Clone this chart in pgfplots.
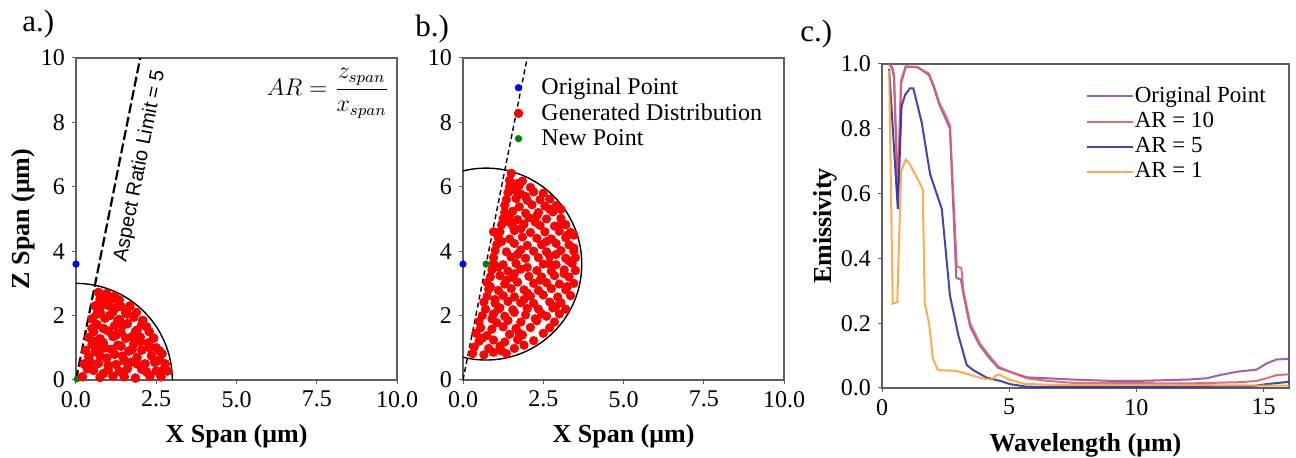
\documentclass[border=0pt]{standalone}
\usepackage{fontspec}
\setmainfont{Liberation Serif}
\newfontfamily\arialfont{Liberation Sans}
\usepackage{pgfplots}
\pgfplotsset{compat=1.18}

\definecolor{frame}{RGB}{95,95,95}
\definecolor{mgreen}{RGB}{0,128,0}
\definecolor{cpurple}{RGB}{148,82,165}
\definecolor{cred}{RGB}{214,98,108}
\definecolor{cblue}{RGB}{52,44,170}
\definecolor{corange}{RGB}{250,165,55}

\pgfplotsset{
  panel/.style={
    scale only axis, anchor=south west,
    axis line style={frame, line width=0.6pt},
    tick align=outside, xtick pos=bottom, ytick pos=left,
    major tick length=2pt,
    tick style={frame, line width=0.5pt},
    tick label style={font=\rmfamily\fontsize{12}{14}\selectfont},
    /pgf/number format/assume math mode=true,
    label style={font=\rmfamily\fontsize{13}{15}\selectfont\bfseries},
    xlabel style={at={([yshift=-28pt]axis description cs:0.5,0)}, anchor=center},
    ylabel style={at={([xshift=-26.5pt]axis description cs:0,0.5)}, anchor=center},
  },
  dots/.style={only marks, mark=*, mark size=#1},
}

\begin{document}
\begin{tikzpicture}
\path[use as bounding box] (0,0) rectangle (648pt,-229pt);

% ---------- a.) ----------
\begin{axis}[panel, at={(38pt,-190pt)}, width=160.5pt, height=161pt,
  xmin=0, xmax=10, ymin=0, ymax=10,
  xtick={0,2.5,5,7.5,10}, ytick={0,2,4,6,8,10},
  xticklabel style={/pgf/number format/fixed, /pgf/number format/fixed zerofill, /pgf/number format/precision=1},
  xlabel={X Span (μm)}, ylabel={Z Span (μm)}]
\draw[black, line width=0.7pt] (axis cs:0,0) circle [radius=3];
\addplot[dots=1.5pt, mgreen] coordinates {(0.03,0.03)};
\addplot[dots=2.2pt, red] coordinates {
(0.2,0.1) (0.75,0.08) (1.15,0.12) (1.5,0.1) (1.85,0.06) (2.3,0.12) (2.65,0.1) (2.85,0.28)
(0.55,0.3) (1.0,0.32) (1.35,0.27) (2.05,0.33) (2.5,0.28) (2.78,0.5)
(0.25,0.5) (0.7,0.52) (1.25,0.48) (1.7,0.55) (2.15,0.5) (2.6,0.62)
(0.4,0.72) (0.95,0.68) (1.45,0.74) (1.9,0.7) (2.35,0.75) (2.68,0.82)
(0.3,0.92) (0.6,0.88) (1.1,0.95) (1.65,0.9) (2.05,0.93) (2.5,1.0)
(0.5,1.1) (0.85,1.15) (1.3,1.08) (1.8,1.12) (2.25,1.15)
(0.4,1.32) (0.75,1.28) (1.15,1.35) (1.55,1.3) (2.0,1.33) (2.42,1.3)
(0.55,1.5) (1.0,1.52) (1.4,1.47) (1.85,1.5) (2.28,1.5)
(0.65,1.72) (1.2,1.68) (1.6,1.75) (2.05,1.72)
(0.5,1.9) (0.9,1.92) (1.35,1.88) (1.8,1.95) (2.08,1.85)
(0.75,2.1) (1.15,2.12) (1.55,2.08) (1.88,2.1)
(0.6,2.3) (1.0,2.32) (1.4,2.28) (1.68,2.3)
(0.75,2.52) (1.1,2.5) (1.35,2.48)
(0.7,2.72) (0.95,2.68)
(0.85,0.2) (1.6,0.35) (2.2,0.25) (0.45,0.55) (1.5,0.6) (2.45,0.55) (0.75,0.75)
(1.2,0.8) (2.6,0.9) (0.9,1.0) (1.4,1.05) (2.0,1.2) (0.6,1.2) (1.25,1.4) (1.75,1.35)
(0.85,1.6) (1.45,1.7) (2.2,1.65) (1.05,2.0) (1.6,2.05) (0.85,2.35) (1.25,2.25)
(0.9,2.6) (1.2,2.6) (0.65,2.05) (0.35,0.35) (1.9,0.5) (2.75,0.35) (1.0,0.45)
(1.75,0.95) (2.3,1.0) (0.5,1.6) (1.9,1.55) (1.3,1.85) (0.7,0.95)};
\addplot[black, line width=1.1pt, dash pattern=on 5pt off 1.8pt] coordinates {(0,0) (2,10)};
\addplot[dots=1.6pt, blue] coordinates {(0,3.6)};
\node[rotate=78.7, font=\arialfont\fontsize{10}{12}\selectfont] at (axis cs:2.0,6.65) {Aspect Ratio Limit = 5};
\node[font=\fontsize{12}{14}\selectfont] at (axis cs:7.85,8.9) {$\displaystyle AR=\frac{z_{span}}{x_{span}}$};
\end{axis}

% ---------- b.) ----------
\begin{axis}[panel, at={(231.5pt,-190pt)}, width=160.5pt, height=161pt,
  xmin=0, xmax=10, ymin=0, ymax=10,
  xtick={0,2.5,5,7.5,10}, ytick={0,2,4,6,8,10},
  xticklabel style={/pgf/number format/fixed, /pgf/number format/fixed zerofill, /pgf/number format/precision=1},
  xlabel={X Span (μm)},
  legend style={at={(axis cs:1.28,9.55)}, anchor=north west, draw=none, fill=none,
    font=\fontsize{12}{14}\selectfont,
    nodes={inner sep=0.5pt}, row sep=2pt},
  legend cell align=left,
  legend image code/.code={\path[draw=none, fill=none] (-4pt,0pt) rectangle (11pt,0pt); \draw[#1] plot coordinates {(0pt,0pt)};}]
\draw[black, line width=0.7pt] (axis cs:0.72,3.6) circle [radius=2.98];
\addplot[dots=1.6pt, blue] coordinates {(0,3.6)};
\addlegendentry{Original Point}
\addplot[dots=2.1pt, red] coordinates {
(0.3,0.82) (0.65,0.78) (0.95,0.86) (1.35,0.82)
(0.35,1.02) (0.8,0.98) (1.15,1.05) (1.6,0.98) (1.9,1.08)
(0.5,1.2) (0.95,1.24) (1.3,1.18) (1.7,1.25) (2.2,1.22)
(0.4,1.45) (0.75,1.38) (1.45,1.42) (1.85,1.4) (2.5,1.45)
(0.55,1.62) (0.9,1.58) (1.25,1.65) (1.65,1.6) (2.1,1.63) (2.7,1.62)
(0.5,1.82) (1.05,1.78) (1.4,1.85) (1.8,1.8) (2.3,1.84) (2.85,1.8)
(0.6,2.0) (0.95,2.05) (1.3,1.98) (1.95,2.02) (2.6,1.98) (3.0,2.05)
(0.7,2.2) (1.15,2.24) (1.55,2.18) (2.0,2.22) (2.35,2.2) (2.8,2.24) (3.2,2.2)
(0.65,2.42) (1.0,2.38) (1.4,2.44) (1.8,2.4) (2.2,2.38) (2.7,2.42) (3.05,2.4)
(0.75,2.6) (1.25,2.62) (1.6,2.58) (2.1,2.6) (2.5,2.64) (2.95,2.58) (3.35,2.62)
(0.8,2.82) (1.1,2.78) (1.5,2.84) (1.9,2.8) (2.35,2.78) (2.75,2.84) (3.2,2.8)
(0.75,3.02) (1.3,2.98) (1.7,3.04) (2.2,3.0) (2.6,3.02) (3.0,2.98) (3.45,3.0)
(0.85,3.2) (1.15,3.24) (1.55,3.18) (2.05,3.22) (2.45,3.2) (2.85,3.24) (3.3,3.2)
(0.9,3.42) (1.4,3.38) (1.8,3.44) (2.3,3.4) (2.75,3.38) (3.15,3.42) (3.5,3.4)
(0.95,3.62) (1.25,3.58) (1.65,3.62) (2.5,3.6) (2.9,3.58) (3.4,3.62)
(0.95,3.8) (1.5,3.82) (1.95,3.78) (2.35,3.8) (2.7,3.84) (3.2,3.78) (3.5,3.8)
(1.0,4.02) (1.35,3.98) (1.8,4.04) (2.2,4.0) (2.6,3.98) (3.05,4.02) (3.45,4.0)
(1.05,4.2) (1.6,4.24) (2.0,4.18) (2.45,4.2) (2.9,4.24) (3.3,4.2)
(1.1,4.42) (1.45,4.38) (1.85,4.44) (2.3,4.4) (2.75,4.38) (3.2,4.42) (3.45,4.5)
(1.15,4.6) (1.6,4.64) (2.1,4.58) (2.55,4.6) (3.0,4.62) (3.35,4.58)
(1.2,4.82) (1.55,4.78) (1.9,4.84) (2.4,4.8) (2.85,4.78) (3.2,4.82)
(1.25,5.02) (1.7,4.98) (2.05,5.04) (2.6,5.0) (3.05,5.02)
(1.3,5.2) (1.55,5.24) (1.95,5.18) (2.35,5.2) (2.8,5.22) (3.05,5.3)
(1.3,5.42) (1.75,5.38) (2.15,5.44) (2.55,5.4) (2.9,5.42)
(1.35,5.6) (1.65,5.64) (2.0,5.58) (2.4,5.6) (2.7,5.62)
(1.4,5.82) (1.8,5.78) (2.2,5.84) (2.5,5.8)
(1.45,6.0) (1.75,6.04) (2.1,5.98)
(1.45,6.2) (1.85,6.18)
(1.5,6.42)
(1.0,2.5) (1.9,2.5) (2.9,2.3) (1.35,3.1) (2.4,3.1) (3.25,2.9) (1.1,3.5) (2.0,3.5)
(3.3,3.7) (1.7,3.9) (2.9,3.9) (1.2,4.3) (2.6,4.3) (1.8,4.7) (3.25,4.5) (1.45,5.1)
(2.3,5.1) (1.95,5.7) (1.6,5.9) (2.25,4.9) (0.9,1.9) (1.6,2.1) (2.25,1.9) (0.6,1.3)
(1.2,0.9) (1.75,1.45) (2.45,2.05) (2.0,2.7) (3.15,3.3) (0.85,2.9) (3.0,4.8) (2.7,5.3)
(1.7,6.1) (1.1,2.2) (1.6,3.3) (2.7,3.6) (1.45,4.9) (3.45,4.1) (0.95,4.6)};
\addlegendentry{Generated Distribution}
\addplot[forget plot, black, line width=0.7pt, dash pattern=on 2.5pt off 1.6pt] coordinates {(0,0) (2,10)};
\addplot[dots=1.6pt, mgreen] coordinates {(0.72,3.6)};
\addlegendentry{New Point}
\end{axis}

% ---------- c.) ----------
\begin{axis}[panel, at={(441pt,-194pt)}, width=203.5pt, height=162pt,
  xmin=0, xmax=16, ymin=0, ymax=1,
  xtick={0,5,10,15}, ytick={0,0.2,0.4,0.6,0.8,1},
  yticklabel style={/pgf/number format/fixed, /pgf/number format/fixed zerofill, /pgf/number format/precision=1},
  xlabel={Wavelength (μm)}, ylabel={Emissivity},
  xlabel style={at={([yshift=-28.5pt]axis description cs:0.5,0)}},
  ylabel style={at={([xshift=-28.5pt]axis description cs:0,0.5)}},
  legend style={at={(axis cs:7.76,0.946)}, anchor=north west, draw=none, fill=none,
    font=\fontsize{11.5}{13}\selectfont,
    nodes={inner sep=0.5pt}, row sep=2.4pt},
  legend cell align=left,
  legend image code/.code={\draw[#1] (0pt,0pt) -- (23pt,0pt);},
  every axis plot/.append style={line width=1pt, opacity=0.9}]
\addplot[cpurple] coordinates {
(0.28,1.0) (0.4,0.985) (0.47,0.96) (0.62,0.6) (0.75,0.94) (0.93,0.99) (1.4,0.99)
(1.6,0.98) (1.85,0.965) (2.05,0.925) (2.25,0.875) (2.45,0.84) (2.67,0.8)
(2.92,0.34) (3.1,0.335) (3.2,0.29) (3.46,0.19) (3.85,0.13) (4.25,0.09) (4.57,0.062)
(5.03,0.05) (5.69,0.033) (6.5,0.03) (7.5,0.026) (9,0.022) (10.14,0.022) (12,0.026)
(12.76,0.03) (13.29,0.04) (13.94,0.05) (14.73,0.057) (15.12,0.076) (15.51,0.088) (16,0.09)};
\addlegendentry{Original Point}
\addplot[cred] coordinates {
(0.28,1.0) (0.4,0.99) (0.47,0.97) (0.62,0.6) (0.75,0.95) (0.93,0.993) (1.4,0.99)
(1.6,0.98) (1.85,0.97) (2.05,0.93) (2.25,0.88) (2.45,0.85) (2.67,0.81)
(2.94,0.375) (3.12,0.37) (3.2,0.3) (3.46,0.2) (3.85,0.137) (4.25,0.096) (4.57,0.066)
(5.03,0.05) (5.69,0.03) (6.5,0.022) (7.5,0.016) (10,0.015) (12,0.014) (14.1,0.018)
(14.73,0.022) (15.12,0.03) (15.51,0.04) (16,0.042)};
\addlegendentry{AR = 10}
\addplot[cblue] coordinates {
(0.28,0.985) (0.62,0.553) (0.77,0.87) (0.91,0.905) (1.1,0.925) (1.23,0.925)
(1.56,0.82) (1.89,0.66) (2.35,0.553) (2.67,0.286) (3.0,0.163) (3.33,0.071)
(3.59,0.055) (4.11,0.032) (4.64,0.022) (5.03,0.012) (5.69,0.004) (7,0.003)
(10,0.003) (14.5,0.005) (15.12,0.012) (16,0.019)};
\addlegendentry{AR = 5}
\addplot[corange] coordinates {
(0.28,0.98) (0.42,0.26) (0.6,0.265) (0.75,0.67) (0.93,0.705) (1.1,0.69) (1.3,0.66)
(1.6,0.615) (1.68,0.26) (1.85,0.2) (2.0,0.09) (2.2,0.055) (2.9,0.053) (3.4,0.042)
(3.9,0.03) (4.3,0.026) (4.5,0.04) (4.6,0.042) (5.0,0.026) (5.6,0.013) (6.5,0.01)
(8,0.01) (10,0.01) (12,0.009) (14,0.008) (16,0.007)};
\addlegendentry{AR = 1}
\end{axis}

\node[anchor=base west, inner sep=0pt, font=\fontsize{15.5}{17}\selectfont] at (11pt,-16pt) {a.)};
\node[anchor=base west, inner sep=0pt, font=\fontsize{15.5}{17}\selectfont] at (207.5pt,-18.5pt) {b.)};
\node[anchor=base west, inner sep=0pt, font=\fontsize{15.5}{17}\selectfont] at (400pt,-21pt) {c.)};
\end{tikzpicture}
\end{document}
